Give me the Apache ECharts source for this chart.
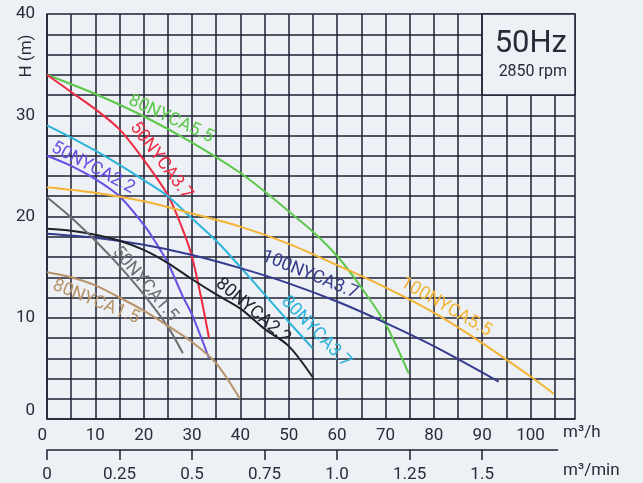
<!DOCTYPE html>
<html>
<head>
<meta charset="utf-8">
<script src="https://cdn.jsdelivr.net/npm/echarts@6/dist/echarts.min.js"></script>
<style>
  html, body { margin: 0; padding: 0; background: #edf0f4; }
  #chart { width: 643px; height: 483px; }
</style>
</head>
<body>
<div id="chart"></div>
<script>
// Pump performance curves: head H (m) against flow Q (m³/h), 50 Hz / 2850 rpm.
const c80NYCA5_5  = [[0,34],[10,32.1],[20,29.9],[30,27.3],[40,24.3],[46,22.1],[50,20.5],[55,18.5],[60,16.1],[65,13.0],[70,9.4],[74.8,4.5]];
const c50NYCA3_7  = [[0,34],[5,32.3],[10,30.6],[15,28.6],[20,25.6],[25,22.1],[28,18.8],[30,16.0],[32,11.7],[33.5,8.0]];
const c80NYCA3_7  = [[0,29],[5,27.8],[10,26.5],[15,25.1],[20,23.6],[25,22.0],[30,19.8],[35,17.6],[40,15.0],[45,12.3],[50,9.6],[54.9,7.0]];
const c50NYCA2_2  = [[0,26],[5,25.0],[10,23.7],[15,22.0],[20,19.2],[22,17.8],[25,15.4],[28,12.2],[30,10.3],[33.5,6.0]];
const c100NYCA5_5 = [[0,22.9],[10,22.35],[20,21.5],[30,20.3],[40,19.0],[50,17.3],[60,15.2],[70,13.0],[80,10.5],[90,7.5],[100,4.2],[104.8,2.5]];
const c100NYCA3_7 = [[0,18.3],[10,17.9],[20,17.2],[30,16.2],[40,14.9],[50,13.4],[60,11.6],[70,9.5],[80,7.2],[93.4,3.7]];
const c80NYCA2_2  = [[0,18.8],[5,18.6],[10,18.2],[15,17.6],[20,16.7],[25,15.4],[30,13.8],[35,12.3],[40,10.9],[45,8.9],[50,7.2],[55,4.1]];
const c50NYCA1_5  = [[0,21.9],[5,19.9],[10,17.6],[15,15.1],[20,12.3],[25,9.1],[28.1,6.5]];
const c80NYCA1_5  = [[0,14.5],[5,14.0],[10,13.2],[15,12.0],[20,10.7],[25,9.2],[30,7.6],[35,5.5],[39.9,2.0]];

// Secondary flow scale in m³/min
const minTicks = [0, 0.25, 0.5, 0.75, 1, 1.25, 1.5];
const minTickLabels = ['0', '0.25', '0.5', '0.75', '1.0', '1.25', '1.5'];

const GRID = '#1d2133';
const TEXT = '#272c39';
const FONT = 'Roboto, "Noto Sans", sans-serif';

const curves = [
  { name: '80NYCA5.5',  data: c80NYCA5_5,  color: '#5cc84c', pos: [171, 119],   rot: -25 },
  { name: '50NYCA3.7',  data: c50NYCA3_7,  color: '#ee2a43', pos: [161, 161],   rot: -53 },
  { name: '80NYCA3.7',  data: c80NYCA3_7,  color: '#2cb4da', pos: [316, 332],   rot: -46 },
  { name: '50NYCA2.2',  data: c50NYCA2_2,  color: '#6a4fe3', pos: [93, 168],    rot: -28 },
  { name: '100NYCA5.5', data: c100NYCA5_5, color: '#f3b335', pos: [446, 307],   rot: -30 },
  { name: '100NYCA3.7', data: c100NYCA3_7, color: '#363b8e', pos: [310, 275],   rot: -22 },
  { name: '80NYCA2.2',  data: c80NYCA2_2,  color: '#1f222b', pos: [253, 311],   rot: -40 },
  { name: '50NYCA1.5',  data: c50NYCA1_5,  color: '#6b6f74', pos: [145, 284],   rot: -50 },
  { name: '80NYCA1.5',  data: c80NYCA1_5,  color: '#b8946a', pos: [96, 302],    rot: -22 }
];

const X_MAX = 109.2;

const series = curves.map(c => ({
  type: 'line',
  name: c.name,
  data: c.data,
  smooth: 0.3,
  symbol: 'none',
  lineStyle: { color: c.color, width: 2 },
  z: 3
}));

// Blank panel holding the frequency / speed caption
series.push({
  type: 'line',
  data: [],
  markArea: {
    silent: true,
    itemStyle: { color: '#edf0f4', borderColor: GRID, borderWidth: 1.5 },
    data: [[{ coord: [90, 32] }, { coord: [X_MAX, 40] }]]
  },
  z: 4
});

const labelGraphics = curves.map(c => ({
  type: 'text',
  x: c.pos[0],
  y: c.pos[1],
  rotation: c.rot * Math.PI / 180,
  z: 10,
  style: {
    text: c.name,
    fill: c.color,
    font: '18px ' + FONT,
    textAlign: 'center',
    textVerticalAlign: 'middle'
  }
}));

const chart = echarts.init(document.getElementById('chart'), null, { renderer: 'canvas' });
chart.setOption({
  backgroundColor: '#edf0f4',
  animation: false,
  grid: [
    { left: 47, top: 14, width: 528, height: 405 },
    { left: 47, top: 14, width: 528 * 1.76 * 60 / X_MAX, height: 405 }
  ],
  xAxis: [
    {
      type: 'value', gridIndex: 0, min: 0, max: X_MAX, interval: 5,
      axisLine: { show: true, lineStyle: { color: GRID, width: 1.5 } },
      axisTick: { show: false },
      splitLine: { show: true, lineStyle: { color: GRID, width: 1.5 } },
      axisLabel: {
        color: TEXT, fontSize: 17, fontFamily: FONT, margin: 8,
        alignMinLabel: 'right',
        formatter: v => (Math.abs(v % 10) < 1e-6 ? String(v) : '')
      }
    },
    {
      type: 'value', gridIndex: 1, min: 0, max: 1.76, position: 'bottom', offset: 31,
      axisLine: { show: true, onZero: false, lineStyle: { color: GRID, width: 1.5 } },
      axisTick: { show: true, length: 10, customValues: minTicks, lineStyle: { color: GRID, width: 1.5 } },
      splitLine: { show: false },
      axisLabel: {
        color: TEXT, fontSize: 17, fontFamily: FONT, margin: 16,
        customValues: minTicks,
        formatter: v => {
          const i = minTicks.findIndex(t => Math.abs(t - v) < 1e-6);
          return i >= 0 ? minTickLabels[i] : '';
        }
      }
    }
  ],
  yAxis: [
    {
      type: 'value', gridIndex: 0, min: 0, max: 40, interval: 2,
      axisLine: { show: true, lineStyle: { color: GRID, width: 1.5 } },
      axisTick: { show: false },
      splitLine: { show: true, lineStyle: { color: GRID, width: 1.5 } },
      axisLabel: {
        color: TEXT, fontSize: 17, fontFamily: FONT, margin: 12,
        verticalAlignMinLabel: 'bottom',
        formatter: v => (v % 10 === 0 ? String(v) : '')
      }
    },
    { type: 'value', gridIndex: 1, min: 0, max: 40, show: false }
  ],
  series: series,
  graphic: labelGraphics.concat([
    {
      type: 'text', x: 27, y: 56, rotation: Math.PI / 2, z: 10,
      style: { text: 'H (m)', fill: TEXT, font: '17px ' + FONT, textAlign: 'center', textVerticalAlign: 'middle' }
    },
    {
      type: 'text', x: 567, y: 44, z: 10,
      style: { text: '50Hz', fill: TEXT, font: '31px ' + FONT, textAlign: 'right', textVerticalAlign: 'middle' }
    },
    {
      type: 'text', x: 567, y: 72, z: 10,
      style: { text: '2850 rpm', fill: TEXT, font: '16px ' + FONT, textAlign: 'right', textVerticalAlign: 'middle' }
    },
    {
      type: 'text', x: 563, y: 433, z: 10,
      style: { text: 'm³/h', fill: TEXT, font: '17px ' + FONT, textAlign: 'left', textVerticalAlign: 'middle' }
    },
    {
      type: 'text', x: 563, y: 471, z: 10,
      style: { text: 'm³/min', fill: TEXT, font: '17px ' + FONT, textAlign: 'left', textVerticalAlign: 'middle' }
    }
  ])
});
</script>
</body>
</html>
